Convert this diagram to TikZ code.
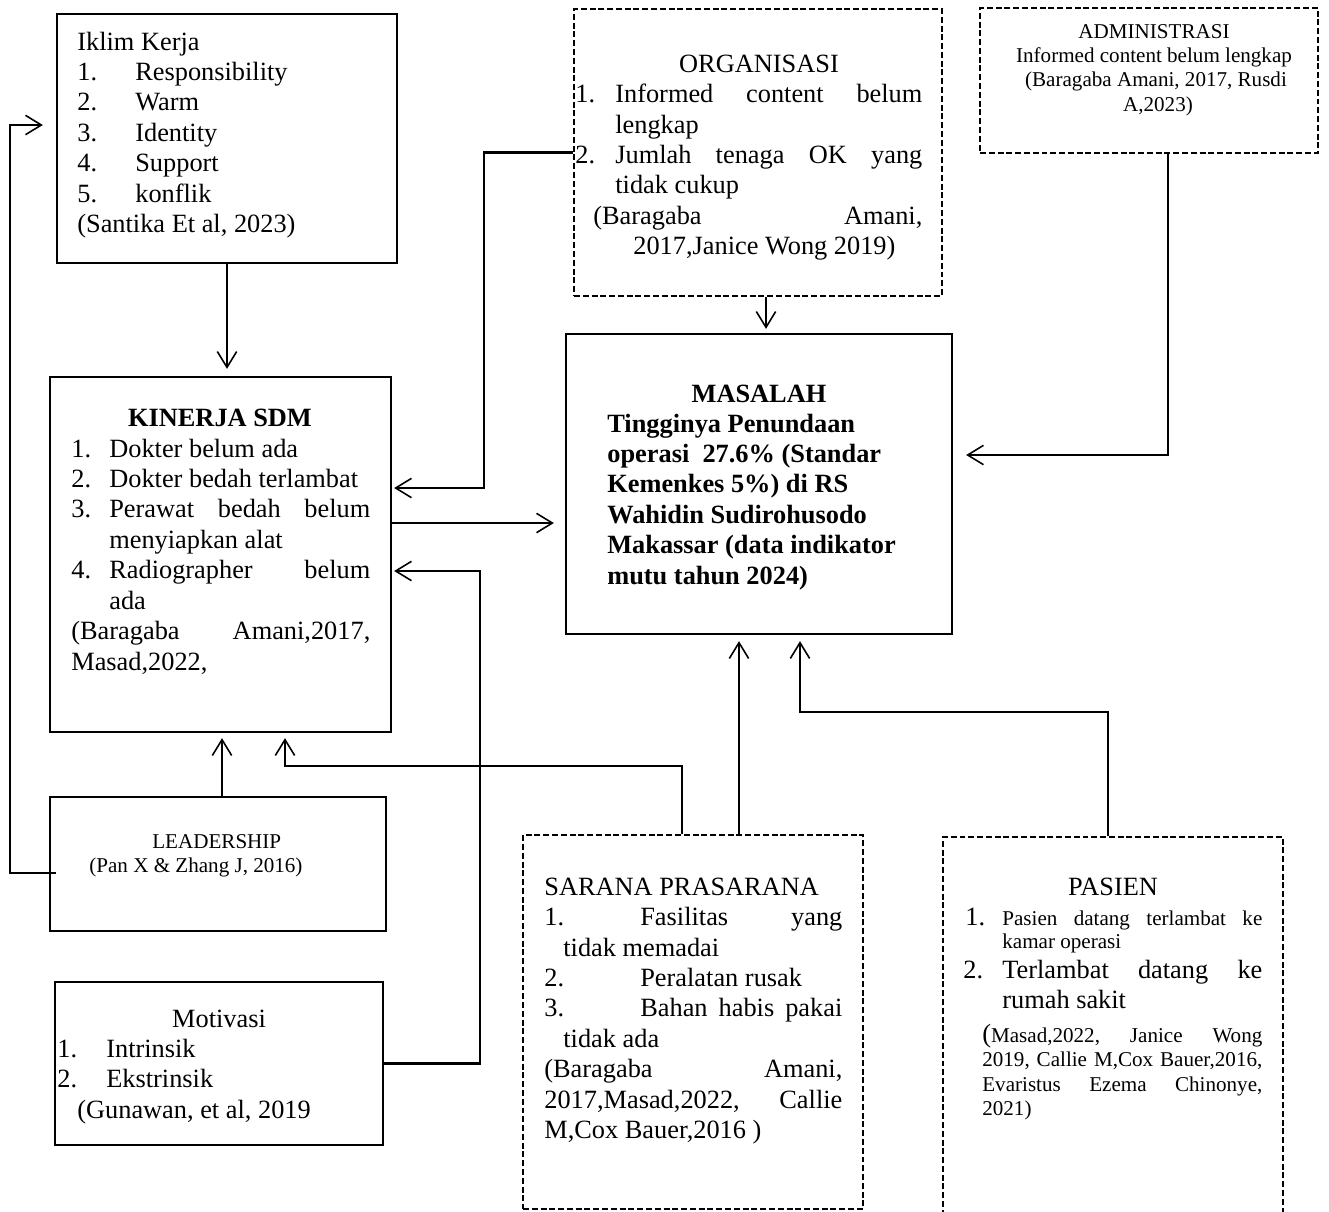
\documentclass[tikz,border=0pt]{standalone}
\usepackage{fontspec}
\setmainfont{Liberation Serif}
\usetikzlibrary{arrows.meta,fit}
\newcommand\px[1]{\dimexpr 0.02cm*#1\relax}
\newcommand\lab[2]{\hbox to \px{#1}{#2\hfil}}
\newcommand\just[2]{\hbox to \px{#1}{#2}}
\newcommand\fbig{\fontsize{15pt}{0.61cm}\selectfont}
\newcommand\fsmall{\fontsize{12pt}{0.49cm}\selectfont}
\newcommand\txtl[1]{\begin{tabular}[t]{@{}l@{}}#1\end{tabular}}
\newcommand\txtc[1]{\begin{tabular}[t]{@{}c@{}}#1\end{tabular}}
\begin{document}
\begin{tikzpicture}[x=0.02cm,y=-0.02cm,
  box/.style={draw, line width=1.3pt, inner sep=0pt},
  dbox/.style={box, line width=1.4pt, dash pattern=on 3.4pt off 1.6pt},
  conn/.style={line width=1.3pt},
  arr/.style={conn, -{Straight Barb[length=9pt,width=11pt,line width=0.9pt]}},
  txt/.style={inner sep=0pt, anchor=base west, font=\fbig},
  ctxt/.style={inner sep=0pt, anchor=base, font=\fbig},
]
\useasboundingbox (0,0) rectangle (1329,1211);
\clip (0,0) rectangle (1329,1211);

% boxes
\node[box, fit={(57,14) (397,263)}] (ik) {};
\node[box, fit={(50,377) (391,732)}] (ks) {};
\node[box, fit={(50,797) (386,931)}] (ld) {};
\node[box, fit={(55,982) (383,1145)}] (mo) {};
\node[dbox, fit={(574,9) (942,296)}] (og) {};
\node[dbox, fit={(980,8) (1318,153)}] (ad) {};
\node[box, fit={(566,334) (952,634)}] (ma) {};
\node[dbox, fit={(523,835) (863,1209)}] (sr) {};
\node[dbox, fit={(943,837) (1283,1260)}] (ps) {};

% texts
\node[txt] (ikt) at (77,50) {\txtl{Iklim Kerja\\
\lab{58}{1.}Responsibility\\
\lab{58}{2.}Warm\\
\lab{58}{3.}Identity\\
\lab{58}{4.}Support\\
\lab{58}{5.}konflik\\
(Santika Et al, 2023)}};

\node[ctxt, font=\fbig\bfseries] (kst) at (220,426) {KINERJA SDM};
\node[txt] (ksl) at (71,457) {\txtl{\lab{38}{1.}Dokter belum ada\\
\lab{38}{2.}Dokter bedah terlambat\\
\lab{38}{3.}\just{261}{Perawat\hfill bedah\hfill belum}\\
\lab{38}{}menyiapkan alat\\
\lab{38}{4.}\just{261}{Radiographer\hfill belum}\\
\lab{38}{}ada\\
\just{299}{(Baragaba\hfill Amani,2017,}\\
Masad,2022,}};

\node[txt, font=\fsmall] (ldt) at (89,848) {\txtl{\hspace{\px{63}}LEADERSHIP\\
(Pan X \& Zhang J, 2016)}};

\node[ctxt] (mot) at (219,1027) {Motivasi};
\node[txt] (mol) at (57,1057) {\txtl{\lab{49}{1.}Intrinsik\\
\lab{49}{2.}Ekstrinsik\\
\lab{20}{}(Gunawan, et al, 2019}};

\node[ctxt] (ogt) at (759,72) {ORGANISASI};
\node[txt] (ogl) at (575,102.5) {\txtl{\lab{40}{1.}\just{307}{Informed\hfill content\hfill belum}\\
\lab{40}{}lengkap\\
\lab{40}{2.}\just{307}{Jumlah\hfill tenaga\hfill OK\hfill yang}\\
\lab{40}{}tidak cukup\\
\lab{18}{}\just{329}{(Baragaba\hfill Amani,}\\
\lab{58}{}2017,Janice Wong 2019)}};

\node[ctxt, font=\fsmall] (adt) at (1154,38) {\txtc{ADMINISTRASI\hspace{\px{22}}\\
Informed content belum lengkap\\
\hspace{\px{4}}(Baragaba Amani, 2017, Rusdi\\
\hspace{\px{8}}A,2023)}};

\node[ctxt, font=\fbig\bfseries] (mat) at (759,402) {MASALAH};
\node[txt, font=\fbig\bfseries] (mal) at (607,432) {\txtl{Tingginya Penundaan\\
operasi\ \ 27.6\% (Standar\\
Kemenkes 5\%) di RS\\
Wahidin Sudirohusodo\\
Makassar (data indikator\\
mutu tahun 2024)}};

\node[txt] (srl) at (544,895) {\txtl{SARANA PRASARANA\\
\lab{96}{1.}\just{202}{Fasilitas\hfill yang}\\
\lab{19}{}tidak memadai\\
\lab{96}{2.}Peralatan rusak\\
\lab{96}{3.}\just{202}{Bahan\hfill habis\hfill pakai}\\
\lab{19}{}tidak ada\\
\just{298}{(Baragaba\hfill Amani,}\\
\just{298}{2017,Masad,2022,\hfill Callie}\\
M,Cox Bauer,2016 )}};

\node[ctxt] (pst) at (1113,895) {PASIEN};
\node[txt] (ps1) at (965,925) {\lab{37}{1.}{\fsmall\just{260}{Pasien\hfill datang\hfill terlambat\hfill ke}}};
\node[txt, font=\fsmall] (ps2) at (1002,948) {kamar operasi};
\node[txt, font=\fontsize{15pt}{0.6cm}\selectfont] (ps3) at (963,978) {\txtl{\lab{39}{2.}\just{260}{Terlambat\hfill datang\hfill ke}\\
\lab{39}{}rumah sakit}};
\node[txt, font=\fsmall] (ps4) at (982,1042) {\txtl{\just{280}{{\fbig(}Masad,2022,\hfill Janice\hfill Wong}\\
\just{280}{2019,\hfill Callie\hfill M,Cox\hfill Bauer,2016,}\\
\just{280}{Evaristus\hfill Ezema\hfill Chinonye,}\\
2021)}};

% connectors
\draw[arr, shorten >=0.14cm] (ik.south) -- (ik.south |- ks.north);
\draw[arr, shorten >=0.26cm] ([xshift=0.14cm, yshift=-0.18cm]ld.west) -- ++(-0.92cm,0) |- ([yshift=0.27cm]ik.west);
\draw[arr, shorten >=0.1cm] ([xshift=0.08cm]ld.north) -- ([xshift=0.08cm]ld.north |- ks.south);
\draw[arr, shorten >=0.1cm] ([xshift=-0.22cm]sr.north) -- ++(0,1.36cm) -| ([xshift=1.29cm]ks.south);
\draw[arr, shorten >=0.04cm] (mo.east) -- ++(1.92cm,0) |- ([yshift=-0.33cm]ks.east);
\draw[arr, shorten >=0.04cm] (og.west) -- ++(-1.78cm,0) |- ([yshift=1.33cm]ks.east);
\draw[arr, shorten >=0.22cm] ([yshift=0.63cm]ks.east) -- ([yshift=0.63cm]ks.east -| ma.west);
\draw[arr, shorten >=0.08cm] ([xshift=0.16cm]og.south) -- ([xshift=0.16cm]og.south |- ma.north);
\draw[arr, shorten >=0.26cm] ([xshift=0.38cm]ad.south) |- ([yshift=0.58cm]ma.east);
\draw[arr, shorten >=0.12cm] ([xshift=0.92cm]sr.north) -- ([xshift=0.92cm]sr.north |- ma.south);
\draw[arr, shorten >=0.12cm] ([xshift=-0.1cm]ps.north) -- ++(0,2.48cm) -| ([xshift=0.82cm]ma.south);
\end{tikzpicture}
\end{document}
